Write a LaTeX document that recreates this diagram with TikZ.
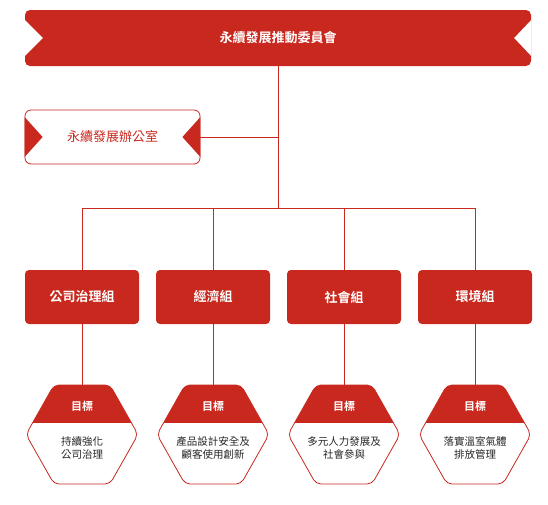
\documentclass[tikz,border=0pt]{standalone}
\usepackage{fontspec}
\newfontfamily\cjk{Noto Sans CJK TC}[BoldFont={Noto Sans CJK TC Bold}]
\usetikzlibrary{calc,positioning}
\definecolor{esgred}{RGB}{200,40,30}

\begin{document}
\begin{tikzpicture}[x=1pt,y=-1pt,font=\cjk,
  line/.style={draw=esgred,line width=0.8pt},
  banner/.style={fill=esgred,rounded corners=5pt,minimum width=506pt,minimum height=56pt,
    text=white,font=\cjk\bfseries\fontsize{13}{15}\selectfont},
  officebox/.style={draw=esgred,line width=0.8pt,fill=white,rounded corners=6pt,
    minimum width=175pt,minimum height=54pt,text=esgred,font=\cjk\fontsize{13}{15}\selectfont},
  groupbox/.style={fill=esgred,rounded corners=4pt,minimum width=114pt,minimum height=54pt,
    text=white,font=\cjk\bfseries\fontsize{13}{15}\selectfont},
  goaltitle/.style={text=white,font=\cjk\bfseries\fontsize{11}{13}\selectfont},
  goaltext/.style={align=center,text=black!85,font=\cjk\fontsize{10.5}{13}\selectfont}]
\useasboundingbox (0,0) rectangle (548,504);

% committee banner
\node[banner] (top) at (278,38) {永續發展推動委員會};
\fill[white] ($(top.west)+(0,-18)$) -- ($(top.west)+(18,0)$) -- ($(top.west)+(0,18)$) -- cycle;
\fill[white] ($(top.east)+(0,-18)$) -- ($(top.east)+(-17,0)$) -- ($(top.east)+(0,18)$) -- cycle;

% office
\node[officebox] (office) at (112.5,137) {永續發展辦公室};
\fill[esgred] ($(office.west)+(0,-20)$) -- ($(office.west)+(18,0)$) -- ($(office.west)+(0,20)$) -- cycle;
\fill[esgred] ($(office.east)+(0,-20)$) -- ($(office.east)+(-18,0)$) -- ($(office.east)+(0,20)$) -- cycle;

\coordinate (bus) at (278,208);

% groups and goals
\foreach \x/\n/\t [count=\i] in {
  82/公司治理組/{持續強化\\公司治理},
  213/經濟組/{產品設計安全及\\顧客使用創新},
  344/社會組/{多元人力發展及\\社會參與},
  475/環境組/{落實溫室氣體\\排放管理}}{
  \node[groupbox] (g\i) at (\x,297) {\n};
  \begin{scope}
    \clip[rounded corners=5pt] (\x-28,385) -- (\x+28,385) -- (\x+56,434.5) -- (\x+28,484)
      -- (\x-28,484) -- (\x-56,434.5) -- cycle;
    \fill[esgred] (\x-60,380) rectangle (\x+60,423);
  \end{scope}
  \draw[line,rounded corners=5pt] (\x-28,385) -- (\x+28,385) -- (\x+56,434.5) -- (\x+28,484)
    -- (\x-28,484) -- (\x-56,434.5) -- cycle;
  \coordinate (h\i) at (\x,385);
  \node[goaltitle] (t\i) at (\x,406) {目標};
  \node[goaltext] (d\i) at (\x,448) {\t};
  \draw[line] (g\i.south) -- (h\i);
  \draw[line] (g\i.north) -- (g\i.north |- bus);
}

% connectors
\draw[line] (top.south) -- (bus);
\draw[line] (office.east) -- (office.east -| bus);
\draw[line] (g1.north |- bus) -- (g4.north |- bus);
\end{tikzpicture}
\end{document}
